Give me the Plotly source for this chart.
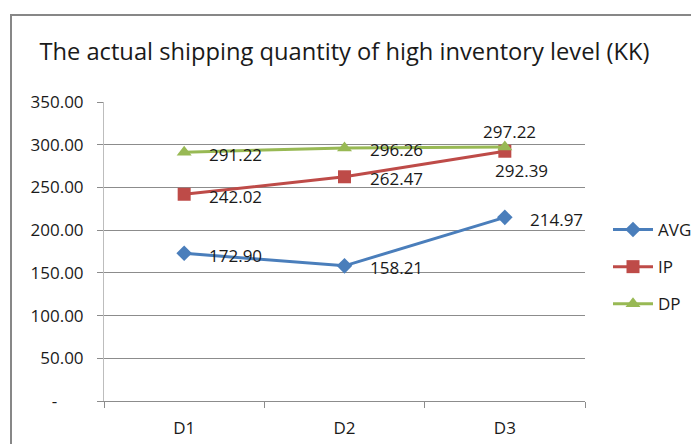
import plotly.graph_objects as go

categories = ["D1", "D2", "D3"]
avg_vals = [172.90, 158.21, 214.97]
ip_vals = [242.02, 262.47, 292.39]
dp_vals = [291.22, 296.26, 297.22]
series_names = ["AVG", "IP", "DP"]
y_tickvals = [0, 50, 100, 150, 200, 250, 300, 350]
y_ticktext = ["-" + "\u00a0" * 6, "50.00", "100.00", "150.00", "200.00", "250.00", "300.00", "350.00"]
title_text = "The actual shipping quantity of high inventory level (KK)"

FONT = "Open Sans"
colors = ["#4A7EBB", "#BE4B48", "#98B954"]
symbols = ["diamond", "square", "triangle-up"]
msizes = [12, 13, 13]

OFF = 8  # page body margin offset
W, H = 699, 444

fig = go.Figure()
for name, vals, c, s, ms in zip(series_names, [avg_vals, ip_vals, dp_vals], colors, symbols, msizes):
    fig.add_trace(go.Scatter(
        x=categories, y=vals, name=name, mode="lines+markers",
        line=dict(color=c, width=3),
        marker=dict(symbol=s, size=ms, color=c),
        legendgroup=name,
    ))

# data labels (Excel style: right of point, except D3 for IP/DP)
label_pos = {
    "AVG": [(23, -2, "left")] * 3,
    "IP": [(23, -2, "left"), (23, -2, "left"), (17, -19, "center")],
    "DP": [(23, -2, "left"), (23, -2, "left"), (5, 16, "center")],
}
for name, vals in zip(series_names, [avg_vals, ip_vals, dp_vals]):
    for i, (cat, v) in enumerate(zip(categories, vals)):
        xs, ys, xa = label_pos[name][i]
        fig.add_annotation(
            x=cat, y=v, text=f"{v:.2f}", showarrow=False,
            xanchor=xa, yanchor="middle", xshift=xs, yshift=ys,
            font=dict(family=FONT, size=17, color="#1a1a1a"),
        )

# outer chart frame
fig.add_shape(type="rect", xref="paper", yref="paper",
              x0=(11 - 104) / 481, x1=1.5, y0=-0.5, y1=(401 - 15) / 299,
              line=dict(color="#878787", width=2), fillcolor="rgba(0,0,0,0)", layer="below")

fig.update_layout(
    width=W, height=H,
    margin=dict(l=104 - OFF, r=114 + OFF, t=102 - OFF, b=43 + OFF),
    paper_bgcolor="white", plot_bgcolor="white",
    font=dict(family=FONT, size=17, color="#1a1a1a"),
    title=dict(text=title_text, x=(344.5 - OFF) / W, xanchor="center", y=1 - (52 - OFF) / H, yanchor="middle",
               font=dict(family=FONT, size=23.7, color="#1a1a1a")),
    showlegend=True,
    legend=dict(xref="container", yref="container",
                x=(608 - OFF) / W, xanchor="left", y=1 - (212 - OFF) / H, yanchor="top",
                font=dict(family=FONT, size=17, color="#1a1a1a"),
                itemwidth=40, tracegroupgap=12, bgcolor="rgba(0,0,0,0)"),
    xaxis=dict(type="category", range=[-0.5, 2.5], showgrid=False,
               showline=True, linecolor="#8c8c8c", linewidth=1,
               ticks="outside", tickson="boundaries", ticklen=6, tickcolor="#8c8c8c",
               ticklabelstandoff=12,
               tickfont=dict(family=FONT, size=17, color="#1a1a1a"), fixedrange=True),
    yaxis=dict(range=[0, 350], tickvals=y_tickvals, ticktext=y_ticktext,
               showgrid=True, gridcolor="#8c8c8c", gridwidth=1,
               showline=True, linecolor="#bdbdbd", linewidth=1,
               ticks="outside", ticklen=6, tickcolor="#8c8c8c",
               ticklabelstandoff=10,
               tickfont=dict(family=FONT, size=17, color="#1a1a1a"), zeroline=False),
)

fig.write_html("out.html")
